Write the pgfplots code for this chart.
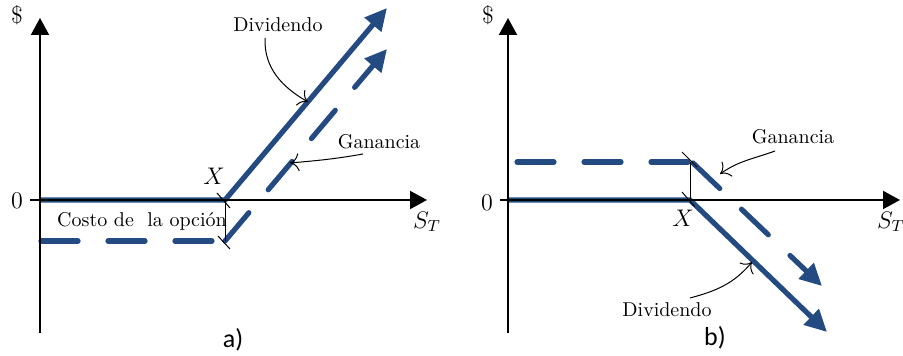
\documentclass[border=0pt]{standalone}
\usepackage{fontspec}
\usepackage{pgfplots}
\pgfplotsset{compat=1.18}
\usetikzlibrary{arrows.meta}
\newfontfamily\sansf{Carlito}
\definecolor{optblue}{RGB}{35,75,130}
\tikzset{
 note/.style={black, line width=0.5pt, -{To[length=4.5pt,width=9pt]}},
 thin1/.style={black, line width=0.5pt},
}
\begin{document}
\begin{tikzpicture}
\useasboundingbox (-20pt,-78pt) rectangle (431.5pt,100pt);
\pgfplotsset{
 panel/.style={x=0.5pt,y=0.5pt, axis lines=middle,
   axis line style={line width=1pt,-{Triangle[length=8.5pt,width=9pt]}},
   xtick=\empty, ytick=\empty, clip=false, anchor=south west, axis on top},
 div/.style={optblue, line width=2.6pt, -{Triangle[length=11pt,width=10.5pt]}},
 gan/.style={optblue, line width=2.6pt, line cap=round, dash pattern=on 18.5pt off 15pt},
 ganarr/.style={gan, -{Triangle[length=11pt,width=10.5pt]}},
}
% ---------- panel a) ----------
\begin{axis}[panel, at={(-5pt,-66.5pt)}, xmin=-10, xmax=387, ymin=-133, ymax=182]
\addplot[div] coordinates {(0,0) (185,0) (347,192)};
\addplot[gan] coordinates {(1,-41) (185,-41)};
\addplot[ganarr] coordinates {(185,-41) (347,151)};
\draw[thin1] (axis cs:185,0) -- (axis cs:185,-41);
\draw[thin1] (axis cs:177,7) -- (axis cs:190,-8);
\draw[thin1] (axis cs:178,-36) -- (axis cs:190,-49);
\draw[note] (axis cs:225,162) to[out=-92,in=150] (axis cs:268,98);
\draw[note] (axis cs:323,46) to[out=190,in=5] (axis cs:250,37);
\node at (axis cs:-23,185) {\large\$};
\node at (axis cs:-23,-1) {\large 0};
\node at (axis cs:174,24) {\large$X$};
\node at (axis cs:102,-21) {Costo de\ \ la opción};
\node at (axis cs:387,-22) {\large$S_T$};
\node at (axis cs:238,175) {Dividendo};
\node at (axis cs:339,58) {Ganancia};
\node at (axis cs:193,-140) {\sansf\fontsize{13}{15}\selectfont a)};
\end{axis}
% ---------- panel b) ----------
\begin{axis}[panel, at={(230pt,-66.5pt)}, xmin=-8, xmax=392, ymin=-133, ymax=182]
\addplot[div] coordinates {(0,0) (182,0) (319,-132)};
\addplot[gan] coordinates {(9,38) (182,38)};
\addplot[ganarr] coordinates {(185,37) (314,-86)};
\draw[thin1] (axis cs:182,0) -- (axis cs:182,38);
\draw[thin1] (axis cs:174,48) -- (axis cs:189,33);
\draw[thin1] (axis cs:174,8) -- (axis cs:187,-7);
\draw[note] (axis cs:267,49) to[out=200,in=35] (axis cs:212,26);
\draw[note] (axis cs:182,-98) to[out=15,in=230] (axis cs:244,-62);
\node at (axis cs:-20,185) {\large\$};
\node at (axis cs:-21,-3) {\large 0};
\node at (axis cs:175,-18) {\large$X$};
\node at (axis cs:383,-22) {\large$S_T$};
\node at (axis cs:159,-110) {Dividendo};
\node at (axis cs:285,63) {Ganancia};
\node at (axis cs:207,-138) {\sansf\fontsize{13}{15}\selectfont b)};
\end{axis}
\end{tikzpicture}
\end{document}
